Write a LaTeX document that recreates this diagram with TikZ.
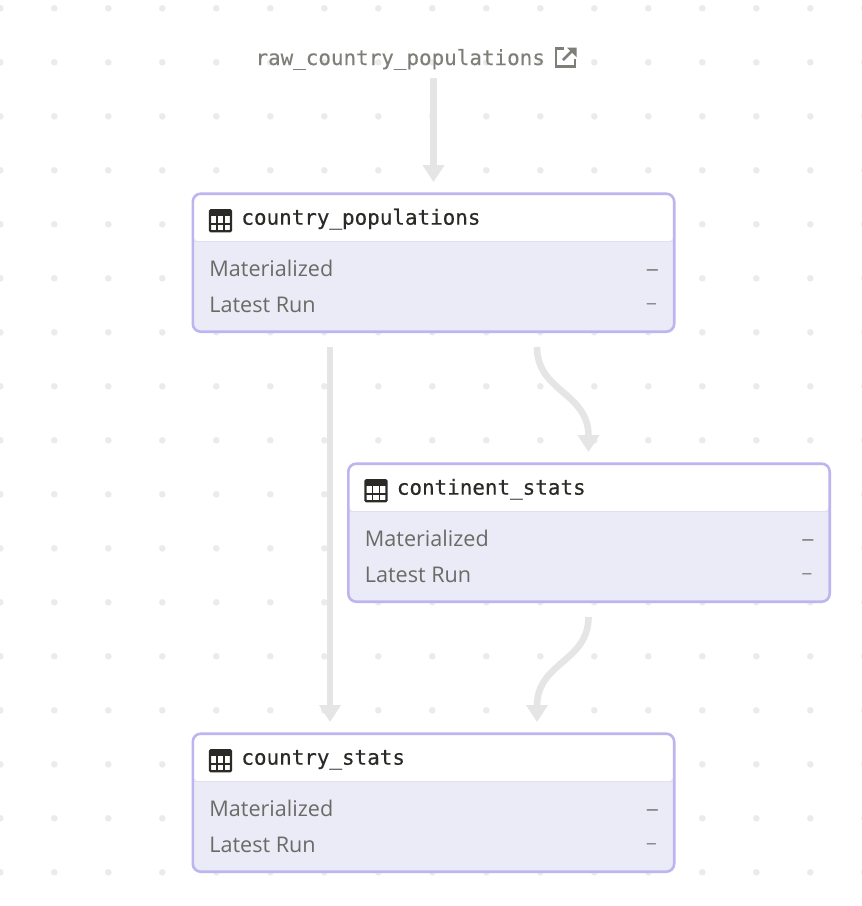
\documentclass[tikz,border=0pt]{standalone}
\usepackage{fontspec}
\setmainfont{Open Sans}
\newfontfamily\codefont[FakeBold=0.35]{DejaVu Sans Mono}
\newfontfamily\rawfont[FakeBold=0.2]{DejaVu Sans Mono}
\newfontfamily\dashfont{Liberation Sans}
\usetikzlibrary{arrows.meta}
\definecolor{dotc}{HTML}{EBEBEB}
\definecolor{edgec}{HTML}{E6E5E5}
\definecolor{cardedge}{HTML}{BDB5EF}
\definecolor{cardfill}{HTML}{EBEBF7}
\definecolor{cardsep}{HTML}{E0DEF2}
\definecolor{titlec}{HTML}{2B2A27}
\definecolor{rowc}{HTML}{6B6A66}
\definecolor{rawc}{HTML}{7F7E79}
\tikzset{
  card/.style={draw=cardedge,line width=2.6pt,fill=cardfill,rounded corners=8pt,
    minimum width=481.4pt,minimum height=138pt,inner sep=0pt,
    path picture={
      \fill[white] (path picture bounding box.north west) rectangle ([yshift=-48pt]path picture bounding box.north east);
      \draw[cardsep,line width=1pt] ([yshift=-48pt]path picture bounding box.north west) -- ([yshift=-48pt]path picture bounding box.north east);
    }},
  cardtitle/.style={anchor=base west,inner sep=0pt,text=titlec,font=\codefont\fontsize{20.9}{21}\selectfont},
  rowlabel/.style={anchor=base west,inner sep=0pt,text=rowc,font=\fontsize{21.6}{22}\selectfont},
  rowvalue/.style={anchor=base east,inner sep=0pt,text=rowc,font=\dashfont\fontsize{20}{22}\selectfont},
  rowvaluesmall/.style={anchor=base east,inner sep=0pt,text=rowc,font=\dashfont\fontsize{16.5}{22}\selectfont},
  rawlabel/.style={anchor=base west,inner sep=0pt,text=rawc,font=\rawfont\fontsize{20.9}{21}\selectfont},
  flow/.style={draw=edgec,line width=6.6pt,-{Triangle[width=21pt,length=17pt]}},
  iconline/.style={draw=titlec,line width=1.7pt},
}
\newcommand{\tablecard}[4]{% name, center x, center y, title
  \node[card] (#1) at (#2,#3) {};
  \begin{scope}[shift={(#2,#3)}]
    \draw[iconline,line width=2.4pt,rounded corners=1pt] (-223.5,-52.5) rectangle (-202.5,-31.5);
    \fill[titlec] (-223.5,-52.5) rectangle (-202.5,-47);
    \draw[iconline] (-223.5,-39) -- (-202.5,-39);
    \draw[iconline] (-216.5,-47) -- (-216.5,-31.5);
    \draw[iconline] (-209.5,-47) -- (-209.5,-31.5);
    \node[cardtitle] (#1title) at (-192.3,-38) {#4};
    \node[rowlabel] (#1mat) at (-224.3,13.5) {Materialized};
    \node[rowlabel] (#1run) at (-224.3,49.5) {Latest Run};
    \node[rowvalue] (#1matv) at (224.7,13) {–};
    \node[rowvaluesmall] (#1runv) at (222.7,45.7) {–};
  \end{scope}
}
\begin{document}
\begin{tikzpicture}[x=1pt,y=-1pt]
\useasboundingbox (0,0) rectangle (862,906);
\fill[white] (0,0) rectangle (862,906);
\foreach \i in {0,...,16} \foreach \j in {0,...,16}
  \fill[dotc] (0.3+54*\i,8.3+54*\j) circle[radius=3.3pt];

\node[rawlabel] (raw) at (255.3,65) {raw\_country\_populations};
\begin{scope}[shift={(555,47)}]
  \draw[rawc,line width=2.4pt] (9,1.5) -- (1.2,1.5) -- (1.2,19.5) -- (20,19.5) -- (20,12);
  \draw[rawc,line width=2.6pt] (8,13) -- (18,3);
  \fill[rawc] (12,0.5) -- (21.5,0.5) -- (21.5,10) -- cycle;
\end{scope}

\tablecard{pop}{433.5}{262.7}{country\_populations}
\tablecard{cont}{589}{532.7}{continent\_stats}
\tablecard{stats}{433.5}{802.7}{country\_stats}

\coordinate (rawout) at (433.5,78);
\coordinate (popin) at (433.5,182);
\coordinate (popoutL) at (330,347);
\coordinate (statsinL) at (330,722);
\coordinate (popoutR) at (537,347);
\coordinate (contin) at (588.5,452);
\coordinate (contout) at (588.5,617);
\coordinate (statsinR) at (537,722);
\draw[flow] (rawout) -- (popin);
\draw[flow] (popoutL) -- (statsinL);
\draw[flow] (popoutR) .. controls (537,392) and (588.5,392) .. (contin);
\draw[flow] (contout) .. controls (588.5,662) and (537,662) .. (statsinR);
\end{tikzpicture}
\end{document}
